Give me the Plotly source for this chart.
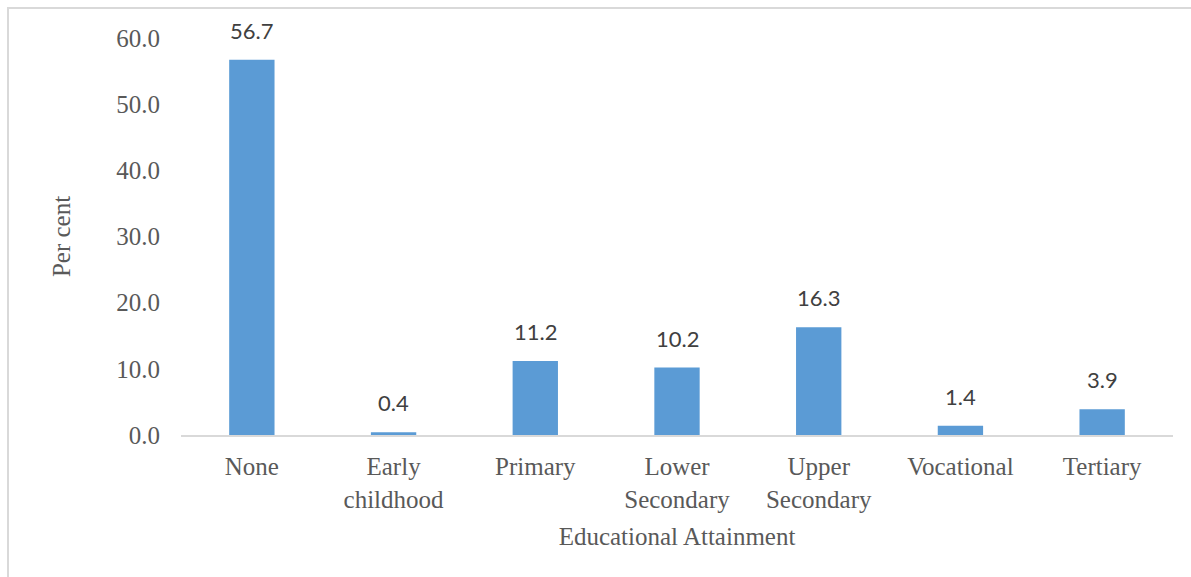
import plotly.graph_objects as go

categories = ["None", "Early<br>childhood", "Primary", "Lower<br>Secondary",
              "Upper<br>Secondary", "Vocational", "Tertiary"]
values = [56.7, 0.4, 11.2, 10.2, 16.3, 1.4, 3.9]
y_ticks = [0, 10, 20, 30, 40, 50, 60]
y_tick_labels = ["0.0", "10.0", "20.0", "30.0", "40.0", "50.0", "60.0"]
x_title = "Educational Attainment"
y_title = "Per cent"

W, H = 1191, 577
L, R, T, B = 181, 18, 38, 142
pw, ph = W - L - R, H - T - B

serif = "Liberation Serif, Times New Roman, serif"
grey = "#595959"

fig = go.Figure(go.Bar(
    x=categories, y=values,
    marker=dict(color="#5B9BD5", line=dict(width=0)),
    width=0.32,
))

annotations = []
for c, v in zip(categories, values):
    annotations.append(dict(
        x=c, y=v, xref="x", yref="y", text=f"{v:.1f}", showarrow=False,
        yanchor="bottom", yshift=14,
        font=dict(family="Lato, Open Sans, sans-serif", size=22, color="#404040"),
    ))

fig.update_layout(
    width=W, height=H,
    margin=dict(l=L, r=R, t=T, b=B, pad=0),
    paper_bgcolor="white", plot_bgcolor="white",
    showlegend=False,
    bargap=0.68,
    annotations=annotations,
    shapes=[dict(
        type="rect", xref="paper", yref="paper",
        x0=(8 - L) / pw, x1=(W + 10 - L) / pw,
        y0=(H - B - (H + 10)) / ph, y1=(H - B - 8) / ph,
        line=dict(color="#d9d9d9", width=2), fillcolor="rgba(0,0,0,0)", layer="below",
    )],
    xaxis=dict(
        showline=True, linecolor="#d9d9d9", linewidth=2,
        showgrid=False, ticks="", zeroline=False,
        tickfont=dict(family=serif, size=25, color=grey),
        ticklabelstandoff=8,
        title=dict(text=x_title, font=dict(family=serif, size=25, color=grey), standoff=16),
    ),
    yaxis=dict(
        range=[0, 60], tickvals=y_ticks, ticktext=y_tick_labels,
        showline=False, showgrid=False, zeroline=False, ticks="",
        tickfont=dict(family=serif, size=25, color=grey),
        ticklabelstandoff=20,
        title=dict(text=y_title, font=dict(family=serif, size=25, color=grey), standoff=38),
    ),
)

fig.write_html("out.html")
